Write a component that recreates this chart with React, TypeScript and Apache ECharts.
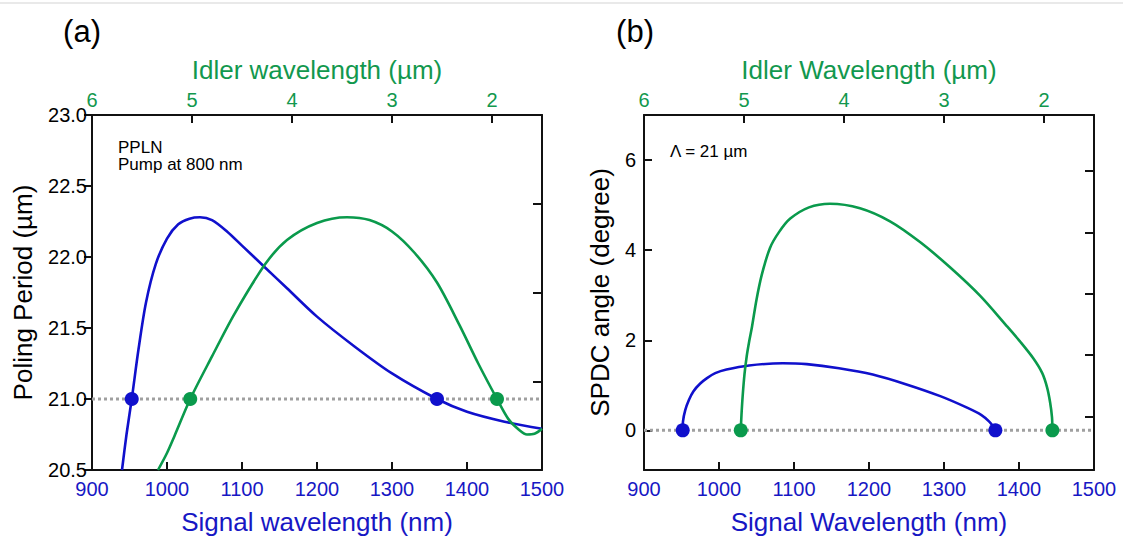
import React, { useEffect, useRef } from "react";
import * as echarts from "echarts";

// ---------- data ----------
// (a) poling period vs signal wavelength
const periodBlueSignal = [940, 946, 953, 962, 972, 985, 1000, 1015, 1030, 1044, 1060, 1080, 1100, 1130, 1160, 1200, 1250, 1300, 1360, 1400, 1450, 1500];
const periodBlueValue = [20.5, 20.75, 21.0, 21.35, 21.68, 21.95, 22.13, 22.23, 22.27, 22.28, 22.26, 22.18, 22.08, 21.93, 21.78, 21.58, 21.37, 21.18, 21.0, 20.91, 20.84, 20.79];
const periodGreenSignal = [988, 1000, 1010, 1031, 1060, 1090, 1131, 1160, 1200, 1240, 1270, 1300, 1330, 1360, 1390, 1415, 1440, 1455, 1470, 1480, 1490, 1500];
const periodGreenValue = [20.5, 20.62, 20.74, 21.0, 21.3, 21.6, 21.95, 22.12, 22.24, 22.28, 22.26, 22.18, 22.03, 21.82, 21.52, 21.25, 21.0, 20.86, 20.78, 20.75, 20.755, 20.79];
const poledPeriod = 21.0;
const periodBlueDots = [953, 1360];
const periodGreenDots = [1031, 1440];

// (b) SPDC angle vs signal wavelength
const angleBlueSignal = [951.6, 952, 955, 960, 966, 975, 984, 995, 1010, 1040, 1085, 1117, 1160, 1205, 1250, 1295, 1330, 1350, 1360, 1366, 1369];
const angleBlueValue = [0, 0.2, 0.45, 0.68, 0.87, 1.04, 1.16, 1.27, 1.35, 1.44, 1.49, 1.47, 1.38, 1.24, 1.02, 0.76, 0.51, 0.34, 0.2, 0.08, 0];
const angleGreenSignal = [1029, 1030, 1031.5, 1034, 1037, 1040, 1044, 1050, 1057, 1068, 1080, 1095, 1120, 1148, 1188, 1228, 1268, 1308, 1348, 1384, 1401, 1419, 1431, 1437.5, 1441.5, 1444, 1444.5];
const angleGreenValue = [0, 0.35, 0.75, 1.25, 1.65, 1.95, 2.3, 2.9, 3.45, 4.05, 4.4, 4.7, 4.95, 5.03, 4.93, 4.64, 4.18, 3.62, 2.99, 2.31, 1.98, 1.6, 1.27, 0.95, 0.62, 0.29, 0];
const zeroAngle = 0;
const angleBlueDots = [951.6, 1368.5];
const angleGreenDots = [1029, 1444.5];

// axes
const signalRange = [900, 1500];
const idlerRange = [1.5, 6];
const idlerTicks = [2, 3, 4, 5];
const idlerLabels = [2, 3, 4, 5, 6];
const periodRange = [20.5, 23.0];
const angleRange = [-0.88, 7];
const angleTicks = [0, 2, 4, 6];
const angleRightRange = [-0.876, 4.914];
const angleRightTicks = [0, 1, 2, 3, 4];

const BLUE = "#1010cc";
const GREEN = "#0a9a4c";
const TEXT_BLUE = "#1717c4";
const TEXT_GREEN = "#12984e";
const FONT = "Liberation Sans";

const axisLine = { show: true, onZero: false, lineStyle: { color: "#111", width: 2 } };

function bottomAxis(gridIndex: number, name: string) {
  return {
    type: "value", gridIndex, position: "bottom",
    min: signalRange[0], max: signalRange[1], interval: 100,
    axisLine, splitLine: { show: false },
    axisTick: { show: true, inside: true, length: 8, lineStyle: { color: "#111", width: 2 } },
    axisLabel: { color: TEXT_BLUE, fontSize: 20, margin: 9, fontFamily: FONT, formatter: (v: number) => String(v) },
    name, nameLocation: "middle", nameGap: 39,
    nameTextStyle: { color: TEXT_BLUE, fontSize: 26, fontFamily: FONT },
  };
}
function topAxis(gridIndex: number, name: string) {
  return {
    type: "value", gridIndex, position: "top", inverse: true,
    min: idlerRange[0], max: idlerRange[1],
    axisLine, splitLine: { show: false },
    axisTick: { show: true, inside: true, length: 8, customValues: idlerTicks, lineStyle: { color: "#111", width: 2 } },
    axisLabel: { color: TEXT_GREEN, fontSize: 20, margin: 5, customValues: idlerLabels, fontFamily: FONT, formatter: (v: number) => String(v) },
    name, nameLocation: "middle", nameGap: 32,
    nameTextStyle: { color: TEXT_GREEN, fontSize: 26, fontFamily: FONT },
  };
}

const pairs = (xs: number[], ys: number[]) => xs.map((x, i) => [x, ys[i]]);

function curve(xi: number, yi: number, xs: number[], ys: number[], color: string) {
  return {
    type: "line", xAxisIndex: xi, yAxisIndex: yi, data: pairs(xs, ys),
    symbol: "none", showSymbol: false, smooth: 0.3,
    lineStyle: { color, width: 2.6 }, z: 3, silent: true,
  };
}
function baseline(xi: number, yi: number, level: number) {
  return {
    type: "line", xAxisIndex: xi, yAxisIndex: yi,
    data: [[signalRange[0], level], [signalRange[1], level]],
    symbol: "none", lineStyle: { color: "#a0a0a0", width: 3, type: [3, 3] }, z: 2, silent: true,
  };
}
function dots(xi: number, yi: number, xs: number[], level: number, color: string) {
  return {
    type: "scatter", xAxisIndex: xi, yAxisIndex: yi,
    data: xs.map((x) => [x, level]), symbol: "circle", symbolSize: 14,
    itemStyle: { color, opacity: 1 }, z: 4, silent: true,
  };
}

export default function App() {
  const ref = useRef<HTMLDivElement>(null);
  useEffect(() => {
    if (!ref.current) return;
    const chart = echarts.init(ref.current, undefined, { renderer: "svg" });
    chart.setOption({
      animation: false,
      backgroundColor: "#fff",
      textStyle: { fontFamily: FONT },
      grid: [
        { left: 92, top: 115, width: 450, height: 358 },
        { left: 644, top: 115, width: 450, height: 358 },
      ],
      xAxis: [
        bottomAxis(0, "Signal wavelength (nm)"),
        topAxis(0, "Idler wavelength (µm)"),
        bottomAxis(1, "Signal Wavelength (nm)"),
        topAxis(1, "Idler Wavelength (µm)"),
      ],
      yAxis: [
        {
          type: "value", gridIndex: 0, position: "left",
          min: periodRange[0], max: periodRange[1], interval: 0.5,
          axisLine, splitLine: { show: false },
          axisTick: { show: true, inside: false, length: 8, lineStyle: { color: "#111", width: 2 } },
          axisLabel: { color: "#000", fontSize: 20, margin: 5, formatter: (v: number) => v.toFixed(1), fontFamily: FONT },
          name: "Poling Period (µm)", nameLocation: "middle", nameGap: 56,
          nameTextStyle: { color: "#000", fontSize: 26, fontFamily: FONT },
        },
        {
          type: "value", gridIndex: 0, position: "right", min: 0, max: 4, interval: 1,
          axisLine, splitLine: { show: false },
          axisTick: { show: true, inside: true, length: 9, lineStyle: { color: "#111", width: 2 } },
          axisLabel: { show: false },
        },
        {
          type: "value", gridIndex: 1, position: "left",
          min: angleRange[0], max: angleRange[1],
          axisLine, splitLine: { show: false },
          axisTick: { show: true, inside: true, length: 8, customValues: angleTicks, lineStyle: { color: "#111", width: 2 } },
          axisLabel: { color: "#000", fontSize: 20, margin: 8, customValues: angleTicks, fontFamily: FONT },
          name: "SPDC angle (degree)", nameLocation: "middle", nameGap: 31,
          nameTextStyle: { color: "#000", fontSize: 26, fontFamily: FONT },
        },
        {
          type: "value", gridIndex: 1, position: "right",
          min: angleRightRange[0], max: angleRightRange[1],
          axisLine, splitLine: { show: false },
          axisTick: { show: true, inside: true, length: 9, customValues: angleRightTicks, lineStyle: { color: "#111", width: 2 } },
          axisLabel: { show: false },
        },
      ],
      series: [
        baseline(0, 0, poledPeriod),
        curve(0, 0, periodBlueSignal, periodBlueValue, BLUE),
        curve(0, 0, periodGreenSignal, periodGreenValue, GREEN),
        dots(0, 0, periodBlueDots, poledPeriod, BLUE),
        dots(0, 0, periodGreenDots, poledPeriod, GREEN),
        baseline(2, 2, zeroAngle),
        curve(2, 2, angleBlueSignal, angleBlueValue, BLUE),
        curve(2, 2, angleGreenSignal, angleGreenValue, GREEN),
        dots(2, 2, angleBlueDots, zeroAngle, BLUE),
        dots(2, 2, angleGreenDots, zeroAngle, GREEN),
      ],
      graphic: [
        { type: "line", shape: { x1: 0, y1: 3, x2: 1123, y2: 3 }, style: { stroke: "#e2e2e2", lineWidth: 1.5 } },
        { type: "text", x: 82, y: 31, style: { text: "(a)", font: `31px ${FONT}`, fill: "#000", align: "center", verticalAlign: "middle" } },
        { type: "text", x: 635, y: 31, style: { text: "(b)", font: `31px ${FONT}`, fill: "#000", align: "center", verticalAlign: "middle" } },
        { type: "text", x: 118, y: 147, style: { text: "PPLN", font: `17px ${FONT}`, fill: "#000", align: "left", verticalAlign: "middle" } },
        { type: "text", x: 118, y: 164, style: { text: "Pump at 800 nm", font: `17px ${FONT}`, fill: "#000", align: "left", verticalAlign: "middle" } },
        { type: "text", x: 670, y: 151, style: { text: "Λ = 21 µm", font: `17px ${FONT}`, fill: "#000", align: "left", verticalAlign: "middle" } },
      ],
    });
    return () => chart.dispose();
  }, []);
  return (
    <div
      ref={ref}
      style={{ position: "absolute", left: 0, top: 0, width: 1123, height: 540, background: "#fff" }}
    />
  );
}
